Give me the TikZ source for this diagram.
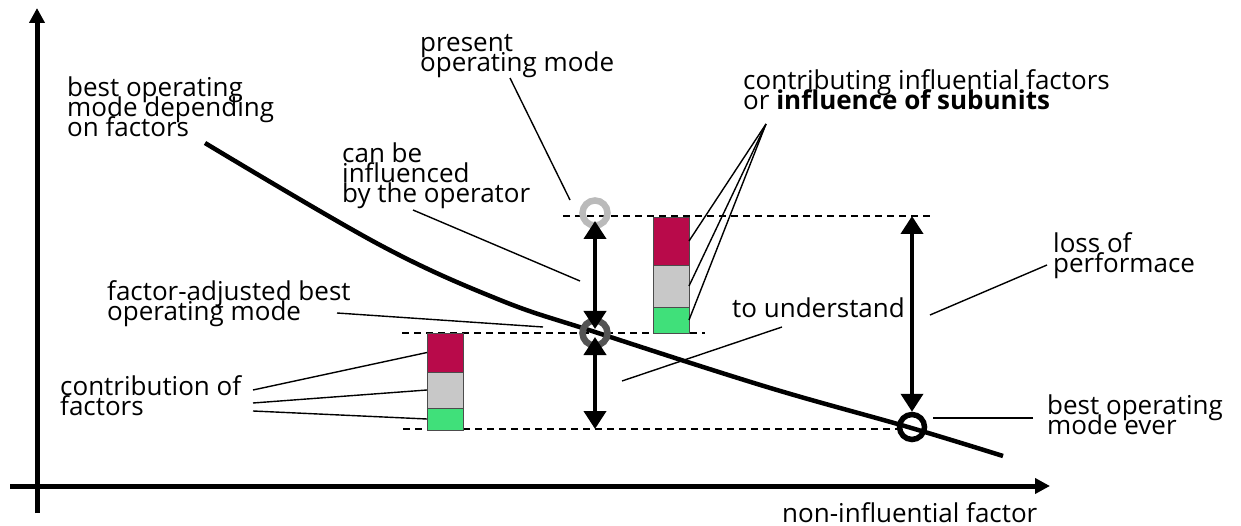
\documentclass[tikz,border=0pt]{standalone}
\usepackage{fontspec}
\setmainfont{Open Sans}
\usetikzlibrary{arrows.meta}
\usetikzlibrary{positioning}
\definecolor{crimson}{RGB}{184,10,74}
\definecolor{pale}{RGB}{200,200,200}
\definecolor{mint}{RGB}{64,224,122}
\newcommand\lblfont{\fontsize{26}{20}\selectfont\lineskiplimit=-30pt\relax}
\tikzset{axis/.style = {line width=5pt, -{Triangle[length=15pt, width=15pt]}}}
\tikzset{trend/.style = {line width=4.5pt}}
\tikzset{guide/.style = {line width=1.4pt, dash pattern=on 7pt off 5pt}}
\tikzset{leader/.style = {line width=1.4pt}}
\tikzset{span/.style = {line width=4pt, {Triangle[length=18pt, width=22pt]}-{Triangle[length=18pt, width=22pt]}}}
\tikzset{opmode/.style = {circle, draw, line width=6.5pt, minimum size=25pt, inner sep=0pt}}
\tikzset{seg/.style = {draw=black!70, line width=0.8pt, minimum width=36pt, inner sep=0pt, outer sep=0pt}}
\tikzset{lbl/.style = {align=left, anchor=base west, inner sep=0pt, font=\lblfont}}

\begin{document}
\begin{tikzpicture}[x=1pt, y=-1pt]
  \useasboundingbox (0,0) rectangle (1241,526);

  \draw [axis] (37,513) -- (37,8);
  \draw [axis] (10,486) -- (1050,486);

  \coordinate (topL) at (563,216);
  \coordinate (topR) at (932,216);
  \coordinate (midL) at (402,333);
  \coordinate (midR) at (705,333);
  \coordinate (lowL) at (403,429);
  \coordinate (lowR) at (905,429);
  \draw [guide] (topL) -- (topR);
  \draw [guide] (midL) -- (midR);
  \draw [guide] (lowL) -- (lowR);

  \node [seg, fill=crimson, minimum height=39pt, anchor=north west] (lred) at (427,333) {};
  \node [seg, fill=pale, minimum height=36pt, below=0pt of lred] (lgrey) {};
  \node [seg, fill=mint, minimum height=22pt, below=0pt of lgrey] (lgreen) {};
  \node [seg, fill=crimson, minimum height=48pt, anchor=north west] (rred) at (653,217) {};
  \node [seg, fill=pale, minimum height=42pt, below=0pt of rred] (rgrey) {};
  \node [seg, fill=mint, minimum height=26pt, below=0pt of rgrey] (rgreen) {};

  \draw [trend] plot [smooth, tension=0.6] coordinates {(205,143) (380,245) (500,300) (595,332) (767,387) (908,427) (1003,456)};

  \node [lbl] (bestdep) at (67,137) {best operating\\mode depending\\on factors};
  \node [lbl] (presentlbl) at (420,72) {present\\operating mode};
  \node [lbl] (subunits) at (743,110) {contributing influential factors\\or \textbf{influence of subunits}};
  \node [lbl] (operator) at (342,203) {can be\\influenced\\by the operator};
  \node [lbl] (adjustedlbl) at (107,320) {factor-adjusted best\\operating mode};
  \node [lbl] (factors) at (60,415) {contribution of\\factors};
  \node [lbl] (understand) at (732,318) {to understand};
  \node [lbl] (loss) at (1053,273) {loss of\\performace};
  \node [lbl] (besteverlbl) at (1047,434) {best operating\\mode ever};
  \node [lbl] (xlabel) at (782,522) {non-influential factor};

  \coordinate (presentA) at (510,78);
  \coordinate (presentB) at (570,200);
  \coordinate (operatorA) at (413,210);
  \coordinate (operatorB) at (580,281);
  \coordinate (adjustedA) at (337,313);
  \coordinate (adjustedB) at (543,327);
  \coordinate (factorsA) at (253,390);
  \coordinate (factorsB) at (253,403);
  \coordinate (factorsC) at (253,411);
  \coordinate (subunitsA) at (766,124);
  \coordinate (understandA) at (782,327);
  \coordinate (understandB) at (622,381);
  \coordinate (lossA) at (1047,265);
  \coordinate (lossB) at (930,315);
  \coordinate (besteverA) at (1033,418);
  \coordinate (besteverB) at (933,418);

  \draw [leader] (presentA) -- (presentB);
  \draw [leader] (operatorA) -- (operatorB);
  \draw [leader] (adjustedA) -- (adjustedB);
  \draw [leader] (factorsA) -- (lred.west);
  \draw [leader] (factorsB) -- (lgrey.west);
  \draw [leader] (factorsC) -- (lgreen.west);
  \draw [leader] (subunitsA) -- (rred.east);
  \draw [leader] (subunitsA) -- (rgrey.east);
  \draw [leader] (subunitsA) -- (rgreen.east);
  \draw [leader] (understandA) -- (understandB);
  \draw [leader] (lossA) -- (lossB);
  \draw [leader] (besteverA) -- (besteverB);

  \node [opmode, draw=black!27] (present) at (595,213) {};
  \node [opmode, draw=black!67] (adjusted) at (595,333) {};
  \node [opmode, line width=5.5pt] (bestever) at (912,427) {};

  \draw [span, shorten <=8pt, shorten >=4pt] (present.center) -- (adjusted.center);
  \draw [span, shorten <=4pt] (adjusted.center) -- (adjusted.center |- lowL);
  \draw [span] (bestever.center |- topR) -- (bestever);
\end{tikzpicture}
\end{document}
